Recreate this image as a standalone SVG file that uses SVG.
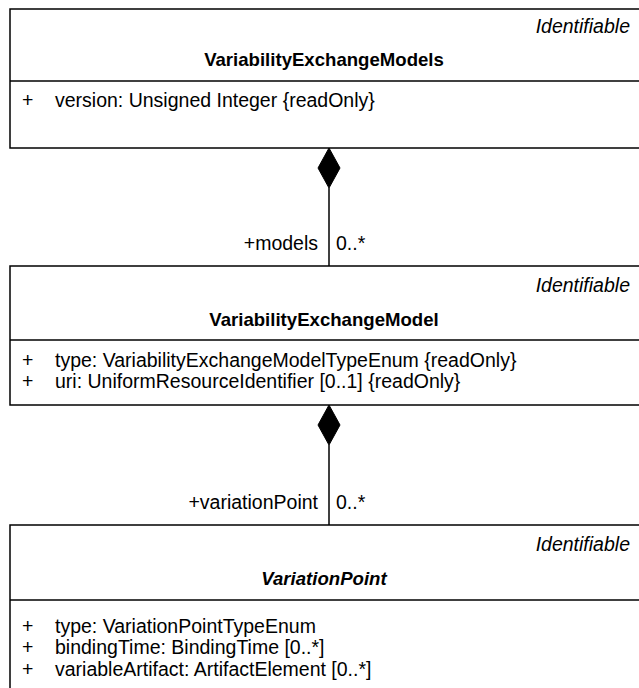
<svg xmlns="http://www.w3.org/2000/svg" width="639" height="688" viewBox="0 0 639 688">
  <style>
    .box { fill: #ffffff; stroke: #000000; stroke-width: 1.5; }
    .sep { stroke: #000000; stroke-width: 1.5; }
    .stereo { font-family: "Liberation Sans", Arial, sans-serif; font-size: 19.5px; font-style: italic; text-anchor: end; fill: #000; }
    .title { font-family: "Liberation Sans", Arial, sans-serif; font-size: 18.6px; font-weight: bold; text-anchor: middle; fill: #000; }
    .abstract { font-style: italic; }
    .attr { font-family: "Liberation Sans", Arial, sans-serif; font-size: 19.5px; fill: #000; }
    .role { font-family: "Liberation Sans", Arial, sans-serif; font-size: 19.5px; fill: #000; }
    .line { stroke: #000000; stroke-width: 1.5; fill: none; }
    .diamond { fill: #000000; stroke: #000000; stroke-width: 1; }
  </style>

  <rect width="639" height="688" fill="#ffffff"/>

  <!-- Composition connectors -->
  <g id="connectors">
    <g id="models-assoc">
      <line class="line" x1="329" y1="188" x2="329" y2="266"/>
      <polygon class="diamond" points="329,148 340,168 329,188 318,168"/>
      <text class="role" x="318" y="250" text-anchor="end">+models</text>
      <text class="role" x="336" y="250">0..*</text>
    </g>
    <g id="variationPoint-assoc">
      <line class="line" x1="329" y1="445" x2="329" y2="525"/>
      <polygon class="diamond" points="329,405 340,425 329,445 318,425"/>
      <text class="role" x="318" y="509" text-anchor="end">+variationPoint</text>
      <text class="role" x="336" y="509">0..*</text>
    </g>
  </g>

  <!-- VariabilityExchangeModels -->
  <g id="VariabilityExchangeModels">
    <rect class="box" x="10" y="9" width="640" height="139"/>
    <line class="sep" x1="10" y1="81" x2="650" y2="81"/>
    <text class="stereo" x="630" y="33">Identifiable</text>
    <text class="title" x="324" y="66">VariabilityExchangeModels</text>
    <text class="attr" x="22" y="107">+</text>
    <text class="attr" x="55" y="107">version: Unsigned Integer {readOnly}</text>
  </g>

  <!-- VariabilityExchangeModel -->
  <g id="VariabilityExchangeModel">
    <rect class="box" x="10" y="266" width="640" height="139"/>
    <line class="sep" x1="10" y1="340" x2="650" y2="340"/>
    <text class="stereo" x="630" y="292">Identifiable</text>
    <text class="title" x="324" y="326">VariabilityExchangeModel</text>
    <text class="attr" x="22" y="367">+</text>
    <text class="attr" x="55" y="367">type: VariabilityExchangeModelTypeEnum {readOnly}</text>
    <text class="attr" x="22" y="388">+</text>
    <text class="attr" x="55" y="388">uri: UniformResourceIdentifier [0..1] {readOnly}</text>
  </g>

  <!-- VariationPoint (abstract) -->
  <g id="VariationPoint">
    <rect class="box" x="10" y="525" width="640" height="180"/>
    <line class="sep" x1="10" y1="600" x2="650" y2="600"/>
    <text class="stereo" x="630" y="551">Identifiable</text>
    <text class="title abstract" x="324" y="585">VariationPoint</text>
    <text class="attr" x="22" y="633">+</text>
    <text class="attr" x="55" y="633">type: VariationPointTypeEnum</text>
    <text class="attr" x="22" y="654">+</text>
    <text class="attr" x="55" y="654">bindingTime: BindingTime [0..*]</text>
    <text class="attr" x="22" y="676">+</text>
    <text class="attr" x="55" y="676">variableArtifact: ArtifactElement [0..*]</text>
  </g>
</svg>
